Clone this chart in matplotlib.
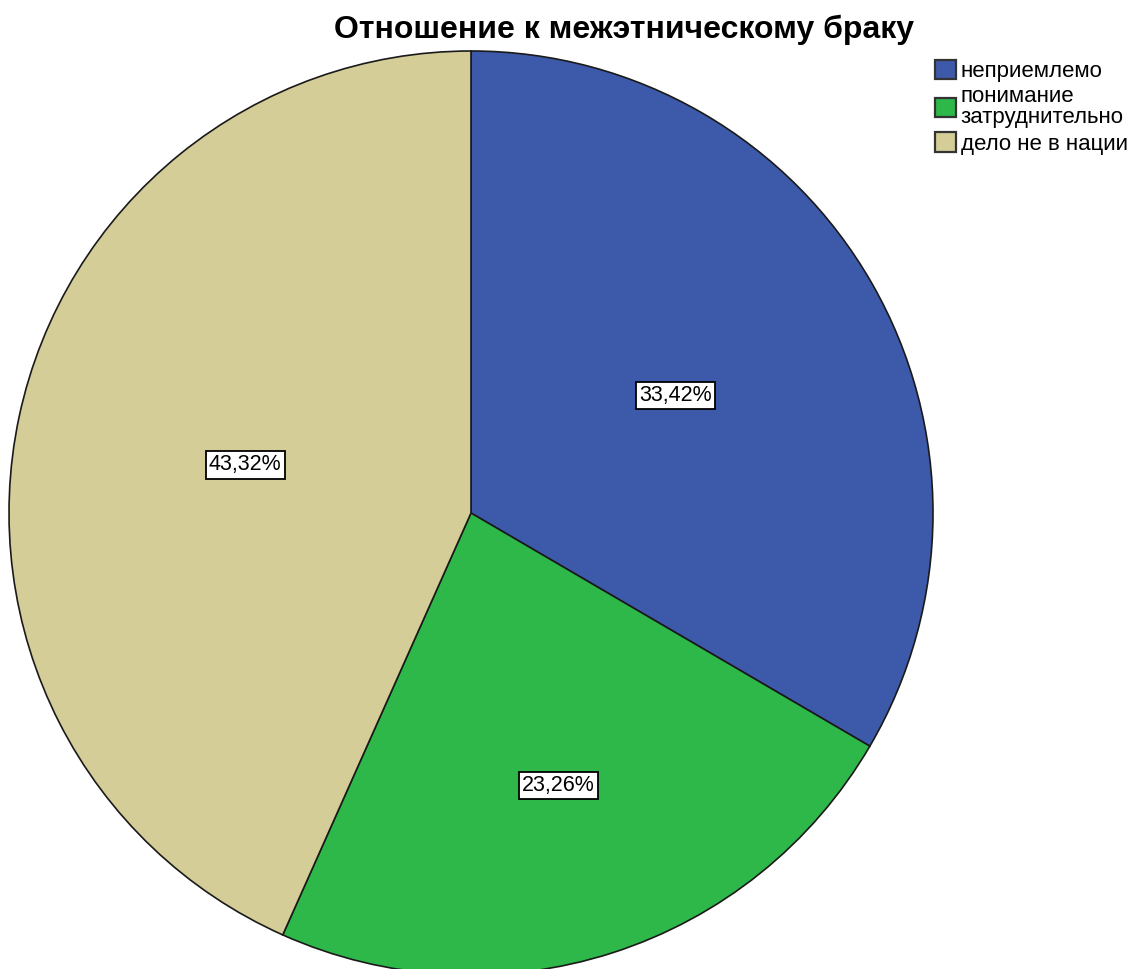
#! /usr/bin/env python3

import matplotlib
matplotlib.use('Agg')
import matplotlib.pyplot as plt
import numpy as np

plt.rcParams['font.family'] = ['Liberation Sans', 'DejaVu Sans']

TITLE = 'Отношение к межэтническому браку'
categories = ['неприемлемо', 'понимание\nзатруднительно', 'дело не в нации']
shares = [33.42, 23.26, 43.32]
colors = ['#3d59aa', '#2eb84a', '#d4cd98']

# label radius (fraction of pie radius) for each slice
label_radii = [0.51, 0.62, 0.50]

W, H = 1133, 969
CX, CY, R = 471, H - 513, 462


def pct_label(v):
    return f'{v:.2f}'.replace('.', ',') + '%'


def main() -> None:
    fig = plt.figure(figsize=(W / 100, H / 100), dpi=100)
    ax = fig.add_axes([0, 0, 1, 1])

    wedges, _ = ax.pie(shares, colors=colors, startangle=90, counterclock=False,
                       center=(CX, CY), radius=R, frame=True,
                       wedgeprops={'edgecolor': '#1a1a1a', 'linewidth': 1.2})
    ax.set_xlim(0, W)
    ax.set_ylim(0, H)
    ax.set_aspect('equal')
    ax.axis('off')

    for w, v, rr in zip(wedges, shares, label_radii):
        mid = np.deg2rad((w.theta1 + w.theta2) / 2)
        x = CX + rr * R * np.cos(mid)
        y = CY + rr * R * np.sin(mid)
        ax.text(x, y, pct_label(v), ha='center', va='center', fontsize=15.5,
                bbox=dict(boxstyle='square,pad=0.15', facecolor='white',
                          edgecolor='black', linewidth=1.3))

    fig.text(624.5 / W, 1 - 38 / H, TITLE, ha='center', va='baseline',
             fontsize=23, fontweight='bold')

    leg = fig.legend(wedges, categories, loc='upper left',
                     bbox_to_anchor=(933 / W, 1 - 58 / H),
                     frameon=False, fontsize=16, handlelength=0.95,
                     handleheight=0.95, handletextpad=0.2, labelspacing=0.18,
                     borderpad=0.1, borderaxespad=0)
    for t in leg.get_texts():
        t.set_linespacing(1.0)
    for p in leg.get_patches():
        p.set_edgecolor('#333333')
        p.set_linewidth(1.6)

    fig.savefig('out.png', dpi=100)
    plt.close(fig)


if __name__ == '__main__':
    main()
